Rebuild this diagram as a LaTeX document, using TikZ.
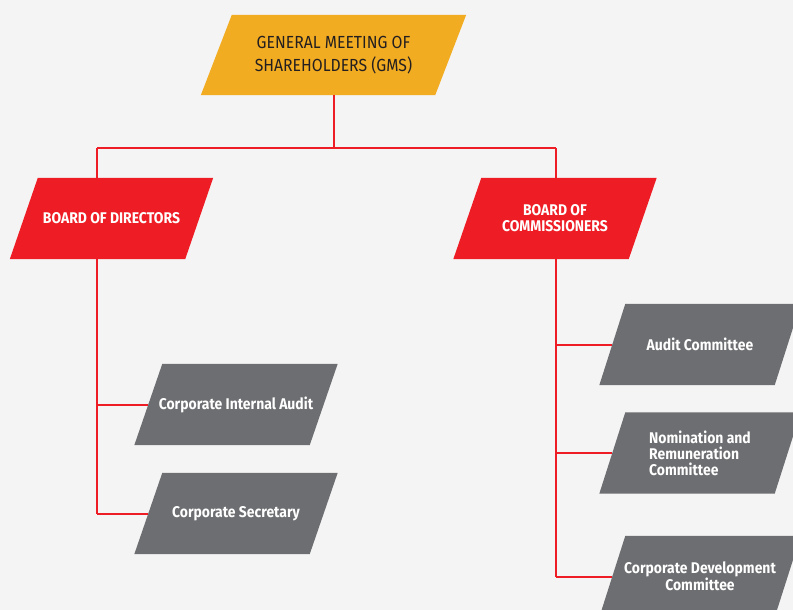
\documentclass[tikz,border=0pt]{standalone}
\usepackage{fontspec}
\setmainfont{Fira Sans}[FakeStretch=0.9]
\usetikzlibrary{backgrounds}
\definecolor{pagebg}{HTML}{F4F4F4}
\definecolor{gold}{HTML}{F2AC22}
\definecolor{brandred}{HTML}{EE1D25}
\definecolor{slate}{HTML}{6D6E71}
\definecolor{ink}{HTML}{231F20}

\tikzset{
  para/.style={rectangle, minimum width=175pt, minimum height=81pt,
    inner sep=0pt, align=center},
  gms/.style={para, text=ink, minimum width=234pt, minimum height=80pt,
    font=\fontsize{17.5}{23}\selectfont},
  board/.style={para, text=white, font=\bfseries\fontsize{15.5}{16}\selectfont},
  unit/.style={para, text=white, font=\bfseries\fontsize{15.5}{16}\selectfont},
  link/.style={draw=brandred, line width=2pt}
}

\begin{document}
\begin{tikzpicture}[x=1pt,y=-1pt]
  \useasboundingbox (0,0) rectangle (793,610);

  % top
  \node[gms] (gms) at (333.5,55) {GENERAL MEETING OF\\SHAREHOLDERS (GMS)};
  \node[board] (bod) at (111.5,218.5) {BOARD OF DIRECTORS};
  \node[board] (boc) at (555,218.5) {BOARD OF\\COMMISSIONERS};

  % under the directors
  \node[unit] (cia) at (236,404.5) {Corporate Internal Audit};
  \node[unit] (cs) at (236,513.5) {Corporate Secretary};

  % under the commissioners
  \node[unit] (ac) at (700,344.5) {Audit Committee};
  \node[unit, align=left] (nrc) at (700,453) {Nomination and\\Remuneration\\Committee};
  \node[unit] (cdc) at (700,576.5) {Corporate Development\\Committee};

  % slanted boxes behind the labels
  \begin{scope}[on background layer]
    \clip (0,0) rectangle (793,610);
    \fill[pagebg] (0,0) rectangle (793,610);
    \foreach \n/\c/\s in {gms/gold/15.5,bod/brandred/14,boc/brandred/14,
        cia/slate/14,cs/slate/14,ac/slate/13,nrc/slate/13,cdc/slate/13}
      \fill[\c] ([xshift=-\s pt]\n.south west) -- ([xshift=-\s pt]\n.south east)
        -- ([xshift=\s pt]\n.north east) -- ([xshift=\s pt]\n.north west) -- cycle;
  \end{scope}

  \coordinate (lbus) at (97,148);
  \coordinate (rbus) at (556,148);

  \draw[link] (gms.south) -- (gms.south |- lbus);
  \draw[link] (lbus) -- (rbus);
  \draw[link] (lbus) -- (lbus |- bod.north);
  \draw[link] (rbus) -- (rbus |- boc.north);

  \draw[link] (lbus |- bod.south) -- (lbus |- cs.west);
  \foreach \n in {cia,cs}
    \draw[link] (lbus |- \n.west) -- (\n.west);

  \draw[link] (rbus |- boc.south) -- (rbus |- cdc.west);
  \foreach \n in {ac,nrc,cdc}
    \draw[link] (rbus |- \n.west) -- (\n.west);
\end{tikzpicture}
\end{document}
